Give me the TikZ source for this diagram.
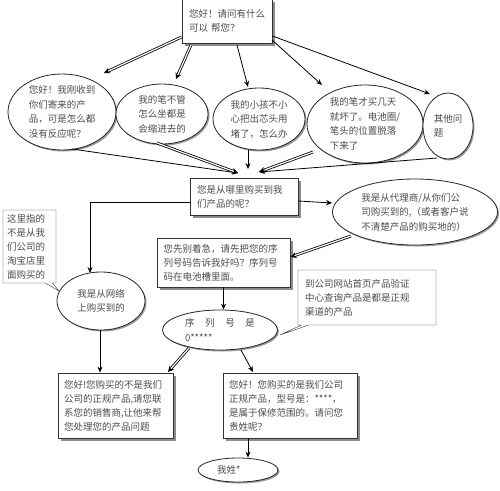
\documentclass[tikz,border=0pt]{standalone}
\usepackage{fontspec}
\setmainfont{Noto Sans CJK SC}
\usetikzlibrary{shapes.geometric, shapes.callouts, positioning, arrows.meta, shadows}
\tikzset{
  qbox/.style={rectangle, draw=black!80, fill=white, thick, align=left, inner sep=0pt,
    text=black!70, font=\fontsize{9.5}{14}\selectfont,
    drop shadow={shadow xshift=2.5pt, shadow yshift=-2.5pt, fill=black!45, opacity=1}},
  bubble/.style={ellipse, draw=black!85, fill=white, thick, inner sep=0pt,
    drop shadow={shadow xshift=1.5pt, shadow yshift=-1.5pt, fill=black!40, opacity=1}},
  txt/.style={align=left, inner sep=0pt, text=black!70, font=\fontsize{9.5}{14.5}\selectfont},
  note/.style={rectangle callout, draw=black!80, fill=white, align=left, inner sep=0pt,
    text=black!70, font=\fontsize{9.5}{14}\selectfont},
  arrow/.style={thick, -{Stealth[length=6pt, width=5pt]}},
  dblarrow/.style={double=white, double distance=1.2pt, thick, -{Stealth[length=6pt, width=6pt]}}
}
\begin{document}
\begin{tikzpicture}[x=1pt, y=-1pt]
    \useasboundingbox (0,0) rectangle (500,490);

    % Pregunta de entrada
    \node[qbox, minimum width=90pt, minimum height=44pt, text width=76pt] (ask) at (227,21) {您好！请问有什么\\可以~帮您？};

    % Problemas de los clientes
    \node[bubble, minimum width=108pt, minimum height=76pt,
      label={[txt]center:您好！我刚收到\\你们寄来的产\\品，可是怎么都\\没有反应呢？}] (e1) at (62,112) {};
    \node[bubble, minimum width=92pt, minimum height=60pt,
      label={[txt]center:我的笔不管\\怎么坐都是\\会缩进去的}] (e2) at (162,114) {};
    \node[bubble, minimum width=92pt, minimum height=62pt,
      label={[txt]center:我的小孩不小\\心把出芯头用\\堵了，怎么办}] (e3) at (259,119) {};
    \node[bubble, minimum width=116pt, minimum height=78pt,
      label={[txt]center:我的笔才买几天\\就坏了。电池圈/\\笔头的位置脱落\\下来了}] (e4) at (365,124) {};
    \node[bubble, minimum width=50pt, minimum height=66pt,
      label={[txt]center:其他问\\题}] (e5) at (448,126) {};

    \draw[dblarrow] (ask.west |- 0,37) -- (104,73);
    \draw[dblarrow] (191,45) -- (176,79);
    \draw[arrow] (237,45) -- (248,87);
    \draw[arrow] (272,40) -- (322,85);
    \draw[arrow] (ask.east |- 0,36) -- (430,94);

    % Donde compro
    \node[qbox, minimum width=108pt, minimum height=37pt, text width=94pt] (where) at (244,196.5) {您是从哪里购买到我\\们产品的呢？};
    \coordinate (in1) at (238,173);
    \coordinate (in2) at (248,169);
    \coordinate (in3) at (259,172);
    \draw[arrow] (72,149) -- (in1);
    \draw[dblarrow] (157,143) -- (in1);
    \draw[arrow] (e3.south -| in2) -- (in2);
    \draw[dblarrow] (313,152) -- (in3);
    \draw[arrow] (437,158) -- (in3);

    % Respuestas
    \node[bubble, minimum width=165pt, minimum height=66pt,
      label={[txt]center:我是从代理商/从你们公\\司购买到的,（或者客户说\\不清楚产品的购买地的）}] (agent) at (415,212) {};
    \node[bubble, minimum width=88pt, minimum height=58pt,
      label={[txt]center:我是从网络\\上购买到的}] (web) at (101,301) {};
    \draw[arrow] (where.east |- 0,201) -- (agent.west |- 0,203);
    \draw[arrow] (where.west |- 0,202) -- (90,202) -- (90,273);

    % Nota izquierda
    \node[note, minimum width=53pt, minimum height=73pt, text width=45pt,
      callout absolute pointer={(59,291)}] (tb) at (29.5,246.5) {这里指的\\不是从我\\们公司的\\淘宝店里\\面购买的};

    % Numero de serie
    \node[qbox, minimum width=133pt, minimum height=49pt, text width=120pt] (serial) at (223.5,262.5) {您先别着急，请先把您的序\\列号码告诉我好吗？序列号\\码在电池槽里面。};
    \draw[dblarrow] (351,236) -- (serial.east |- 0,257);

    \node[note, minimum width=138pt, minimum height=55pt, text width=124pt,
      callout absolute pointer={(280,335)}] (check) at (367,297.5) {到公司网站首页产品验证\\中心查询产品是都是正规\\渠道的产品};

    \node[bubble, minimum width=115pt, minimum height=40pt,
      label={[txt, text width=70pt]center:序\hfill 列\hfill 号\hfill 是\hspace*{5pt}\\0*****}] (num) at (220,330) {};
    \draw[arrow] (serial.south |- 0,287) -- (serial.south |- num.north);

    % Resultados
    \node[qbox, minimum width=115pt, minimum height=65pt, text width=103pt] (fake) at (115.5,405.5) {您好!您购买的不是我们\\公司的正规产品,请您联\\系您的销售商,让他来帮\\您处理您的产品问题};
    \node[qbox, minimum width=134pt, minimum height=65pt, text width=122pt] (real) at (290,405.5) {您好！您购买的是我们公司\\正规产品，型号是：****，\\是属于保修范围的。请问您\\贵姓呢？};
    \draw[arrow] (100,330) -- (fake.north -| 100,0);
    \draw[dblarrow] (189,348) -- (168,372);
    \draw[arrow] (241,350) -- (253,372);

    \node[bubble, minimum width=80pt, minimum height=24pt,
      label={[txt, text width=42pt]center:我姓*}] (name) at (238,470) {};
    \draw[arrow] (real.south -| 248,0) -- (name.north -| 248,0);

\end{tikzpicture}
\end{document}
